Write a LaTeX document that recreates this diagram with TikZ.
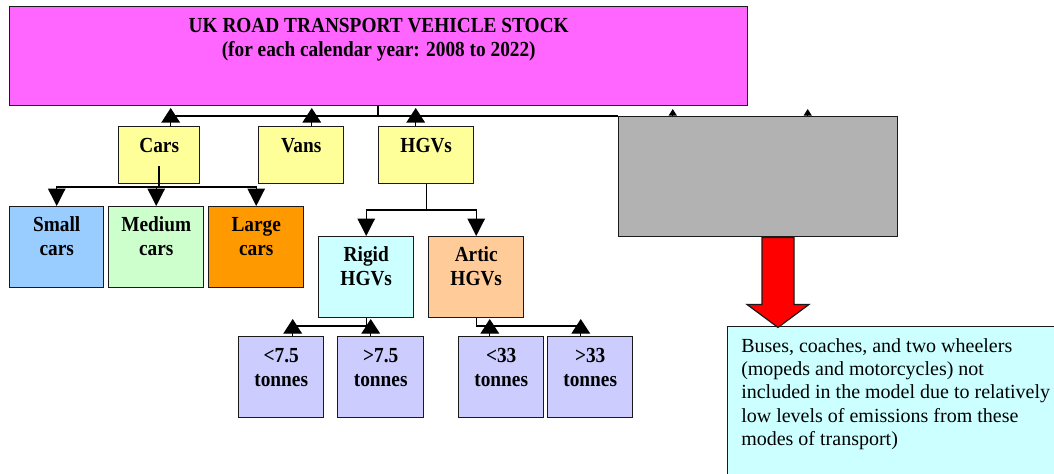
\documentclass[tikz,border=0pt]{standalone}
\usepackage{fontspec}
\setmainfont{Liberation Serif}
\newfontfamily\labfont[FakeStretch=0.9]{Liberation Serif}
\usetikzlibrary{arrows.meta}
\definecolor{magc}{HTML}{FF66FF}
\definecolor{yelc}{HTML}{FFFF99}
\definecolor{bluec}{HTML}{99CCFF}
\definecolor{greenc}{HTML}{CCFFCC}
\definecolor{orangec}{HTML}{FF9900}
\definecolor{cyanc}{HTML}{CCFFFF}
\definecolor{peachc}{HTML}{FFCC99}
\definecolor{lavc}{HTML}{CCCCFF}
\definecolor{grayc}{HTML}{B2B2B2}
\definecolor{redc}{HTML}{FF0000}
\definecolor{edgec}{HTML}{1A1A1A}
\begin{document}
\begin{tikzpicture}[x=0.75pt,y=-0.75pt,
  box/.style={draw=edgec, line width=1.1pt, inner sep=0pt},
  bw/.style={minimum width=#1*0.75pt},
  bh/.style={minimum height=#1*0.75pt},
  lab/.style={inner sep=0pt, anchor=base, font=\labfont\bfseries\fontsize{16.1pt}{18pt}\selectfont},
  conn/.style={draw=black, line width=1pt},
  upA/.style={conn, -{Triangle[width=14pt,length=11pt]}},
  downA/.style={conn, -{Triangle[width=13pt,length=13pt]}},
  smallA/.style={conn, -{Triangle[width=6pt,length=5pt]}}]
\clip (0,0) rectangle (1054,474);
\fill[white] (0,0) rectangle (1054,474);

% boxes
\node[box, fill=magc, bw=738, bh=99, anchor=north west] (top) at (9,6) {};
\node[box, fill=yelc, bw=81, bh=57, anchor=north west] (cars) at (118,126) {};
\node[box, fill=yelc, bw=85, bh=57, anchor=north west] (vans) at (258,126) {};
\node[box, fill=yelc, bw=95, bh=57, anchor=north west] (hgvs) at (378,126) {};
\node[box, fill=grayc, bw=279, bh=120, anchor=north west] (gray) at (618,116) {};
\node[box, fill=bluec, bw=94, bh=81, anchor=north west] (small) at (9,206) {};
\node[box, fill=greenc, bw=95, bh=81, anchor=north west] (medium) at (108,206) {};
\node[box, fill=orangec, bw=95, bh=81, anchor=north west] (large) at (208,206) {};
\node[box, fill=cyanc, bw=95, bh=81, anchor=north west] (rigid) at (318,236) {};
\node[box, fill=peachc, bw=95, bh=81, anchor=north west] (artic) at (428,236) {};
\node[box, fill=lavc, bw=85, bh=81, anchor=north west] (lt75) at (238,336) {};
\node[box, fill=lavc, bw=86, bh=81, anchor=north west] (gt75) at (337,336) {};
\node[box, fill=lavc, bw=85, bh=81, anchor=north west] (lt33) at (458,336) {};
\node[box, fill=lavc, bw=85, bh=81, anchor=north west] (gt33) at (547,336) {};
\node[box, fill=cyanc, bw=340, bh=160, anchor=north west] (note) at (727,326) {};

% texts
\node[lab] (topT) at ([yshift=-20.25pt]top.north) {\begin{tabular}[t]{@{}c@{}}UK ROAD TRANSPORT VEHICLE STOCK\\(for each calendar year: 2008 to 2022)\end{tabular}};
\node[lab] (carsT) at ([yshift=-20.25pt]cars.north) {Cars};
\node[lab] (vansT) at ([yshift=-20.25pt]vans.north) {Vans};
\node[lab] (hgvsT) at ([yshift=-20.25pt]hgvs.north) {HGVs};
\node[lab] (smallT) at ([yshift=-19.5pt]small.north) {\begin{tabular}[t]{@{}c@{}}Small\\cars\end{tabular}};
\node[lab] (mediumT) at ([yshift=-19.5pt]medium.north) {\begin{tabular}[t]{@{}c@{}}Medium\\cars\end{tabular}};
\node[lab] (largeT) at ([yshift=-19.5pt]large.north) {\begin{tabular}[t]{@{}c@{}}Large\\cars\end{tabular}};
\node[lab] (rigidT) at ([yshift=-19.5pt]rigid.north) {\begin{tabular}[t]{@{}c@{}}Rigid\\HGVs\end{tabular}};
\node[lab] (articT) at ([yshift=-19.5pt]artic.north) {\begin{tabular}[t]{@{}c@{}}Artic\\HGVs\end{tabular}};
\node[lab] (lt75T) at ([yshift=-19.5pt]lt75.north) {\begin{tabular}[t]{@{}c@{}}\textless7.5\\tonnes\end{tabular}};
\node[lab] (gt75T) at ([yshift=-19.5pt]gt75.north) {\begin{tabular}[t]{@{}c@{}}\textgreater7.5\\tonnes\end{tabular}};
\node[lab] (lt33T) at ([yshift=-19.5pt]lt33.north) {\begin{tabular}[t]{@{}c@{}}\textless33\\tonnes\end{tabular}};
\node[lab] (gt33T) at ([yshift=-19.5pt]gt33.north) {\begin{tabular}[t]{@{}c@{}}\textgreater33\\tonnes\end{tabular}};
\node[inner sep=0pt, anchor=base west, font=\fontsize{15pt}{17.5pt}\selectfont] (noteT) at (741,352)
  {\begin{tabular}[t]{@{}l@{}}Buses, coaches, and two wheelers\\(mopeds and motorcycles) not\\included in the model due to relatively\\low levels of emissions from these\\modes of transport)\end{tabular}};

% top connectors
\coordinate (stub) at (378,116);
\coordinate (busL) at (170,116);
\draw[conn] (top.south -| stub) -- (stub);
\draw[conn] (busL) -- (gray.north west);
\draw[upA] ([xshift=8.6pt]cars.north) -- ++(0,-18);
\draw[upA] ([xshift=7.9pt]vans.north) -- ++(0,-18);
\draw[upA] ([xshift=-7.9pt]hgvs.north) -- ++(0,-18);
\draw[smallA] ([xshift=-64.1pt]gray.north) -- ++(0,-7);
\draw[smallA] ([xshift=37.1pt]gray.north) -- ++(0,-7);

% cars children
\coordinate (cstart) at (159,166);
\coordinate (cbus) at (159,187);
\draw[conn] (cstart) -- (cbus);
\draw[downA] (cbus) -| (small.north);
\draw[downA] (cbus) -| (medium.north);
\draw[downA] (cbus) -| (large.north);

% hgv children
\coordinate (hy) at (0,210);
\coordinate (hbus) at (hgvs.south |- hy);
\draw[conn] (hgvs.south) -- (hbus);
\draw[downA] (hbus) -| (rigid.north);
\draw[downA] (hbus) -| (artic.north);

% rigid / artic children
\coordinate (ry) at (0,326);
\coordinate (rbus) at (rigid.south |- ry);
\coordinate (abus) at (artic.south |- ry);
\draw[conn] (rigid.south) -- (rbus) -- ([xshift=8.6pt]lt75.north |- ry);
\draw[conn] (artic.south) -- (abus) -- ([xshift=-7.1pt]gt33.north |- ry);
\draw[upA] ([xshift=8.6pt]lt75.north) -- ++(0,-17);
\draw[upA] ([xshift=-7.5pt]gt75.north) -- ++(0,-17);
\draw[upA] ([xshift=-8.6pt]lt33.north) -- ++(0,-17);
\draw[upA] ([xshift=-7.1pt]gt33.north) -- ++(0,-17);

% red block arrow
\coordinate (raTop) at (gray.south -| 778,0);
\draw[fill=redc, draw=edgec, line width=0.9pt] (raTop) ++(-16,0) -- ++(32,0) -- ++(0,67) -- ++(15,0) -- ++(-31,23) -- ++(-31,-23) -- ++(15,0) -- cycle;
\end{tikzpicture}
\end{document}
